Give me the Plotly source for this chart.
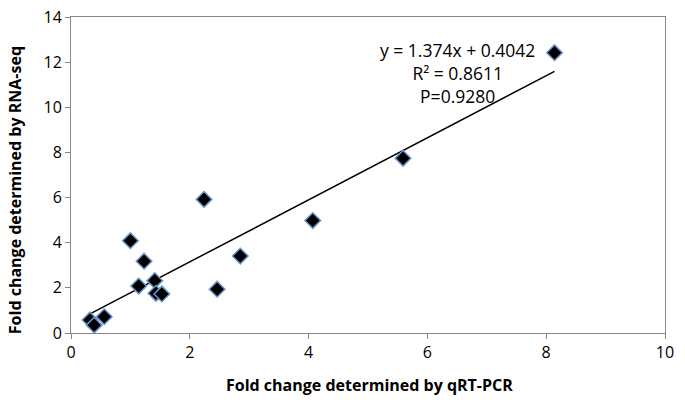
import plotly.graph_objects as go
import numpy as np

qrt_pcr = [0.32, 0.39, 0.56, 1.00, 1.14, 1.23, 1.41, 1.43, 1.53, 2.24, 2.46, 2.85, 4.07, 5.59, 8.14]
rna_seq = [0.58, 0.35, 0.72, 4.09, 2.08, 3.18, 2.32, 1.76, 1.73, 5.92, 1.94, 3.41, 4.98, 7.74, 12.42]
slope = 1.374
intercept = 0.4042
eq_lines = ["y = 1.374x + 0.4042", "R² = 0.8611", "P=0.9280"]
x_title = "Fold change determined by qRT-PCR"
y_title = "Fold change determined by RNA-seq"

FONT = "Open Sans"

x_line = np.array([min(qrt_pcr), max(qrt_pcr)])
y_line = slope * x_line + intercept

fig = go.Figure()
fig.add_trace(go.Scatter(
    x=x_line, y=y_line, mode="lines",
    line=dict(color="black", width=1.5), showlegend=False, hoverinfo="skip"))
fig.add_trace(go.Scatter(
    x=qrt_pcr, y=rna_seq, mode="markers",
    marker=dict(symbol="diamond", size=12, color="black",
                line=dict(color="#6A94C8", width=1.5)),
    showlegend=False))

fig.add_annotation(
    x=6.5, y=11.5, xref="x", yref="y",
    text="<br>".join(eq_lines), showarrow=False, align="center",
    font=dict(family=FONT, size=17.5, color="black"))

fig.add_annotation(
    x=0.503, y=-0.165, xref="paper", yref="paper", xanchor="center", yanchor="middle",
    text="<b>" + x_title + "</b>", showarrow=False,
    font=dict(family=FONT, size=16, color="black"))
fig.add_annotation(
    x=-0.094, y=0.4525, xref="paper", yref="paper", textangle=-90,
    xanchor="center", yanchor="middle",
    text="<b>" + y_title + "</b>", showarrow=False,
    font=dict(family=FONT, size=16, color="black"))

axis_common = dict(
    showgrid=False, zeroline=False, showline=True, linecolor="#868686", linewidth=1,
    mirror=True, ticks="outside", ticklen=5, tickcolor="#868686",
    tickfont=dict(family=FONT, size=16, color="black"), automargin=False)

fig.update_xaxes(range=[0, 10], dtick=2, **axis_common)
fig.update_yaxes(range=[0, 14], dtick=2, **axis_common)

fig.update_layout(
    width=685, height=408,
    margin=dict(l=71, r=20, t=17, b=75),
    plot_bgcolor="white", paper_bgcolor="white")

fig.write_html("out.html", config={"displayModeBar": False},
               post_script="document.body.style.margin='0';")
